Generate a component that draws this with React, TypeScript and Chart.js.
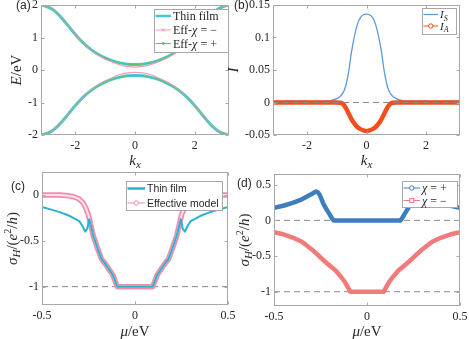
import React, { useEffect, useRef } from 'react';
import { Chart, registerables } from 'chart.js';
Chart.register(...registerables);

// ---------------- data ----------------
// (a) band structure
const kGrid = [-3.14, -3, -2.75, -2.5, -2.25, -2, -1.75, -1.5, -1.25, -1, -0.75, -0.5, -0.25, 0, 0.25, 0.5, 0.75, 1, 1.25, 1.5, 1.75, 2, 2.25, 2.5, 2.75, 3, 3.14];
const bandFilmUp = [2.0, 1.97, 1.86, 1.65, 1.38, 1.10, 0.85, 0.65, 0.49, 0.37, 0.28, 0.22, 0.18, 0.17, 0.18, 0.22, 0.28, 0.37, 0.49, 0.65, 0.85, 1.10, 1.38, 1.65, 1.86, 1.97, 2.0];
const bandFilmDn = [-2.0, -1.97, -1.86, -1.65, -1.38, -1.10, -0.85, -0.65, -0.49, -0.37, -0.28, -0.22, -0.18, -0.17, -0.18, -0.22, -0.28, -0.37, -0.49, -0.65, -0.85, -1.10, -1.38, -1.65, -1.86, -1.97, -2.0];
const bandEffMinusUp = [2.0, 1.97, 1.86, 1.65, 1.38, 1.10, 0.85, 0.64, 0.47, 0.34, 0.24, 0.16, 0.11, 0.09, 0.11, 0.16, 0.24, 0.34, 0.47, 0.64, 0.85, 1.10, 1.38, 1.65, 1.86, 1.97, 2.0];
const bandEffMinusDn = [-2.0, -1.97, -1.86, -1.65, -1.38, -1.10, -0.85, -0.64, -0.47, -0.34, -0.23, -0.14, -0.09, -0.07, -0.09, -0.14, -0.23, -0.34, -0.47, -0.64, -0.85, -1.10, -1.38, -1.65, -1.86, -1.97, -2.0];
const bandEffPlusUp = [2.0, 1.97, 1.86, 1.65, 1.38, 1.10, 0.85, 0.65, 0.49, 0.37, 0.28, 0.22, 0.18, 0.17, 0.18, 0.22, 0.28, 0.37, 0.49, 0.65, 0.85, 1.10, 1.38, 1.65, 1.86, 1.97, 2.0];
const bandEffPlusDn = [-2.0, -1.97, -1.86, -1.65, -1.38, -1.10, -0.85, -0.65, -0.49, -0.37, -0.28, -0.22, -0.18, -0.17, -0.18, -0.22, -0.28, -0.37, -0.49, -0.65, -0.85, -1.10, -1.38, -1.65, -1.86, -1.97, -2.0];

// (b) I_S, I_A
const kB = [-3.14, -2, -1.5, -1.2, -1.0, -0.9, -0.8, -0.7, -0.6, -0.5, -0.4, -0.3, -0.2, -0.1, 0, 0.1, 0.2, 0.3, 0.4, 0.5, 0.6, 0.7, 0.8, 0.9, 1.0, 1.2, 1.5, 2, 3.14];
const IS = [0.002, 0.002, 0.002, 0.003, 0.006, 0.009, 0.014, 0.025, 0.047, 0.079, 0.103, 0.121, 0.131, 0.135, 0.136, 0.135, 0.131, 0.121, 0.103, 0.079, 0.047, 0.025, 0.014, 0.009, 0.006, 0.003, 0.002, 0.002, 0.002];
const IA = [0, 0, 0, 0, 0, -0.0003, -0.002, -0.008, -0.017, -0.026, -0.033, -0.038, -0.041, -0.043, -0.044, -0.043, -0.041, -0.038, -0.033, -0.026, -0.017, -0.008, -0.002, -0.0003, 0, 0, 0, 0, 0];

// (c) Hall conductance, thin film vs effective model
const muFilmC = [-0.5, -0.45, -0.4, -0.35, -0.3, -0.285, -0.268, -0.257, -0.246, -0.238, -0.225, -0.2, -0.18, -0.16, -0.14, -0.12, -0.095, 0.095, 0.12, 0.14, 0.16, 0.18, 0.2, 0.225, 0.238, 0.246, 0.257, 0.268, 0.285, 0.3, 0.35, 0.4, 0.45, 0.5];
const sigmaFilmC = [-0.13, -0.16, -0.19, -0.23, -0.285, -0.33, -0.40, -0.37, -0.265, -0.33, -0.44, -0.59, -0.70, -0.75, -0.81, -0.87, -1.0, -1.0, -0.87, -0.81, -0.75, -0.70, -0.59, -0.44, -0.33, -0.265, -0.37, -0.40, -0.33, -0.285, -0.23, -0.19, -0.16, -0.13];
const muEffC = [-0.5, -0.45, -0.4, -0.36, -0.33, -0.3, -0.28, -0.265, -0.25, -0.24, -0.225, -0.2, -0.18, -0.16, -0.14, -0.12, -0.095, 0.095, 0.12, 0.14, 0.16, 0.18, 0.2, 0.225, 0.24, 0.25, 0.265, 0.28, 0.3, 0.33, 0.36, 0.4, 0.45, 0.5];
const sigmaEffC = [0, 0, -0.002, -0.008, -0.02, -0.045, -0.085, -0.14, -0.22, -0.31, -0.44, -0.59, -0.70, -0.75, -0.81, -0.87, -1.0, -1.0, -0.87, -0.81, -0.75, -0.70, -0.59, -0.44, -0.31, -0.22, -0.14, -0.085, -0.045, -0.02, -0.008, -0.002, 0, 0];

// (d) chirality-resolved
const muPlusD = [-0.5, -0.45, -0.4, -0.35, -0.3, -0.285, -0.273, -0.265, -0.255, -0.245, -0.235, -0.22, -0.2, -0.19, -0.18, 0.18, 0.19, 0.2, 0.22, 0.235, 0.245, 0.255, 0.265, 0.273, 0.285, 0.3, 0.35, 0.4, 0.45, 0.5];
const sigmaPlusD = [0.175, 0.205, 0.245, 0.295, 0.365, 0.39, 0.405, 0.395, 0.36, 0.30, 0.235, 0.165, 0.08, 0.035, 0, 0, 0.035, 0.08, 0.165, 0.235, 0.30, 0.36, 0.395, 0.405, 0.39, 0.365, 0.295, 0.245, 0.205, 0.175];
const muMinusD = [-0.5, -0.45, -0.4, -0.35, -0.3, -0.27, -0.25, -0.22, -0.2, -0.17, -0.14, -0.12, -0.1, -0.09, 0.09, 0.1, 0.12, 0.14, 0.17, 0.2, 0.22, 0.25, 0.27, 0.3, 0.35, 0.4, 0.45, 0.5];
const sigmaMinusD = [-0.165, -0.195, -0.24, -0.30, -0.40, -0.47, -0.52, -0.59, -0.635, -0.70, -0.79, -0.86, -0.95, -1.0, -1.0, -0.95, -0.86, -0.79, -0.70, -0.635, -0.59, -0.52, -0.47, -0.40, -0.30, -0.24, -0.195, -0.165];

// reference (dashed) levels
const refB = [0];
const refC = [-1];
const refD = [0, -1];

// ticks
const ticksAx = [-2, 0, 2];
const ticksAy = [-2, -1, 0, 1, 2];
const ticksBx = [-2, 0, 2];
const ticksBy = [-0.05, 0, 0.05, 0.1, 0.15];
const ticksCx = [-0.5, 0, 0.5];
const ticksCy = [-1, -0.5, 0];
const ticksDx = [-0.5, 0, 0.5];
const ticksDy = [-1, -0.5, 0, 0.5];
const labelsAx = ['-2', '0', '2'];
const labelsAy = ['-2', '-1', '0', '1', '2'];
const labelsBx = ['-2', '0', '2'];
const labelsBy = ['-0.05', '0', '0.05', '0.1', '0.15'];
const labelsCx = ['-0.5', '0', '0.5'];
const labelsCy = ['-1', '-0.5', '0'];
const labelsDx = ['-0.5', '0', '0.5'];
const labelsDy = ['-1', '-0.5', '0', '0.5'];

// ---------------- drawing helpers ----------------
const W = 469, H = 339;
const SERIF = '"Liberation Serif", "DejaVu Serif", serif';
const SANS = '"Liberation Sans", Arial, sans-serif';
const AXIS = '#a8a8a8';
const TXT = '#262626';

type Seg = { t: string; it?: boolean; sz?: number; dy?: number };

function rich(ctx: CanvasRenderingContext2D, segs: Seg[], x: number, y: number, base: number, fam: string, align: 'left' | 'center', rot = 0) {
  ctx.save();
  ctx.translate(x, y);
  if (rot) ctx.rotate(rot);
  ctx.textBaseline = 'alphabetic';
  ctx.textAlign = 'left';
  ctx.fillStyle = TXT;
  const fonts = segs.map(s => `${s.it ? 'italic ' : ''}${s.sz ?? base}px ${fam}`);
  const widths = segs.map((s, i) => { ctx.font = fonts[i]; return ctx.measureText(s.t).width; });
  const total = widths.reduce((a, b) => a + b, 0);
  let cx = align === 'center' ? -total / 2 : 0;
  const by = base * 0.35;
  segs.forEach((s, i) => { ctx.font = fonts[i]; ctx.fillText(s.t, cx, by + (s.dy ?? 0)); cx += widths[i]; });
  ctx.restore();
}

function drawFrame(chart: any) {
  const { ctx, chartArea: a, scales } = chart;
  ctx.save();
  ctx.strokeStyle = AXIS;
  ctx.lineWidth = 1;
  const L = Math.round(a.left) + 0.5, R = Math.round(a.right) - 0.5, T = Math.round(a.top) + 0.5, B = Math.round(a.bottom) - 0.5;
  ctx.strokeRect(L, T, R - L, B - T);
  const tl = 3;
  ctx.beginPath();
  scales.x.ticks.forEach((t: any) => {
    const px = Math.round(scales.x.getPixelForValue(t.value)) + 0.5;
    ctx.moveTo(px, B); ctx.lineTo(px, B - tl);
    ctx.moveTo(px, T); ctx.lineTo(px, T + tl);
  });
  scales.y.ticks.forEach((t: any) => {
    const py = Math.round(scales.y.getPixelForValue(t.value)) + 0.5;
    ctx.moveTo(L, py); ctx.lineTo(L + tl, py);
    ctx.moveTo(R, py); ctx.lineTo(R - tl, py);
  });
  ctx.stroke();
  ctx.restore();
}

type Row = { y: number; color: string; lw: number; marker?: 'circle' | 'square' | 'dot' | 'x'; segs: Seg[] };
type Leg = { x: number; y: number; w: number; h: number; x0: number; x1: number; tx: number; fam: string; size: number; rows: Row[] };

function drawLegend(ctx: CanvasRenderingContext2D, L: Leg) {
  ctx.save();
  ctx.fillStyle = '#ffffff';
  ctx.fillRect(L.x, L.y, L.w, L.h);
  ctx.strokeStyle = AXIS;
  ctx.lineWidth = 1;
  ctx.strokeRect(L.x + 0.5, L.y + 0.5, L.w, L.h);
  L.rows.forEach(r => {
    ctx.strokeStyle = r.color;
    ctx.lineWidth = r.lw;
    ctx.beginPath(); ctx.moveTo(L.x0, r.y); ctx.lineTo(L.x1, r.y); ctx.stroke();
    const mx = (L.x0 + L.x1) / 2;
    ctx.lineWidth = 1;
    if (r.marker === 'circle') {
      ctx.fillStyle = '#fff'; ctx.beginPath(); ctx.arc(mx, r.y, 2.2, 0, Math.PI * 2); ctx.fill(); ctx.stroke();
    } else if (r.marker === 'square') {
      ctx.fillStyle = '#fff'; ctx.fillRect(mx - 2, r.y - 2, 4, 4); ctx.strokeRect(mx - 2, r.y - 2, 4, 4);
    } else if (r.marker === 'dot') {
      ctx.fillStyle = r.color; ctx.beginPath(); ctx.arc(mx, r.y, 1.4, 0, Math.PI * 2); ctx.fill();
    } else if (r.marker === 'x') {
      ctx.beginPath(); ctx.moveTo(mx - 1.5, r.y - 1.5); ctx.lineTo(mx + 1.5, r.y + 1.5); ctx.moveTo(mx + 1.5, r.y - 1.5); ctx.lineTo(mx - 1.5, r.y + 1.5); ctx.stroke();
    }
    rich(ctx, r.segs, L.tx, r.y, L.size, L.fam, 'left');
  });
  ctx.restore();
}

function panelLabel(ctx: CanvasRenderingContext2D, t: string, x: number, y: number) {
  ctx.save();
  ctx.font = `12px ${SANS}`;
  ctx.fillStyle = TXT;
  ctx.textBaseline = 'middle';
  ctx.textAlign = 'left';
  ctx.fillText(t, x, y);
  ctx.restore();
}

function series(xs: number[], ys: number[], color: string, width: number, order: number, extra: any = {}) {
  return {
    data: xs.map((x, i) => ({ x, y: ys[i] })),
    borderColor: color, borderWidth: width, pointRadius: 0, fill: false, order,
    tension: 0, borderCapStyle: 'round', borderJoinStyle: 'round', ...extra,
  };
}

function refLine(v: number, xmin: number, xmax: number, order: number) {
  return series([xmin, xmax], [v, v], '#8a8a8a', 1, order, { borderDash: [6, 4], borderCapStyle: 'butt' });
}

type Ax = { min: number; max: number; ticks: number[]; labels: string[] };

function buildConfig(area: number[], xa: Ax, ya: Ax, datasets: any[], deco: (ctx: CanvasRenderingContext2D, chart: any) => void) {
  const [L, T, R, B] = area;
  const YW = 30, XH = 20;
  const tickFont = { family: SERIF, size: 12 };
  return {
    type: 'line',
    data: { datasets },
    options: {
      animation: false, responsive: false, events: [],
      layout: { padding: { left: L - YW, top: T, right: W - R, bottom: H - B - XH } },
      plugins: { legend: { display: false }, tooltip: { enabled: false }, title: { display: false } },
      scales: {
        x: {
          type: 'linear', min: xa.min, max: xa.max, bounds: 'data',
          grid: { display: false, drawTicks: false }, border: { display: false },
          ticks: { font: tickFont, color: TXT, padding: 4, maxRotation: 0, autoSkip: false, callback: (_v: any, i: number) => xa.labels[i] },
          afterBuildTicks: (s: any) => { s.ticks = xa.ticks.map(v => ({ value: v })); },
          afterFit: (s: any) => { s.height = XH; s.paddingLeft = 0; s.paddingRight = 0; },
        },
        y: {
          type: 'linear', min: ya.min, max: ya.max, bounds: 'data',
          grid: { display: false, drawTicks: false }, border: { display: false },
          ticks: { font: tickFont, color: TXT, padding: 3, autoSkip: false, callback: (_v: any, i: number) => ya.labels[i] },
          afterBuildTicks: (s: any) => { s.ticks = ya.ticks.map(v => ({ value: v })); },
          afterFit: (s: any) => { s.width = YW; s.paddingTop = 0; s.paddingBottom = 0; },
        },
      },
    },
    plugins: [{ id: 'deco', afterDraw: (chart: any) => { drawFrame(chart); deco(chart.ctx, chart); } }],
  };
}

// ---------------- panel configs ----------------
const C_FILM_A = '#45c6da';
const C_EFFM = '#f29bb5';
const C_EFFP = '#62c26a';
const C_IS = '#5d9ad3';
const C_IA = '#f24e1e';
const C_FILM_C = '#25b4d0';
const C_EFF_C = '#f08dab';
const C_PLUS = '#3c7ec0';
const C_MINUS = '#f27a7a';

const sigmaTitle: Seg[] = [{ t: 'σ', it: true }, { t: 'H', it: true, sz: 11, dy: 3 }, { t: '/(' }, { t: 'e', it: true }, { t: '2', sz: 10, dy: -6 }, { t: '/' }, { t: 'h', it: true }, { t: ')' }];

function configA() {
  const mono = { cubicInterpolationMode: 'monotone' };
  const ds = [
    series(kGrid, bandEffPlusUp, C_EFFP, 1, 0, mono),
    series(kGrid, bandEffPlusDn, C_EFFP, 1, 0, mono),
    series(kGrid, bandEffMinusUp, C_EFFM, 1.2, 1, mono),
    series(kGrid, bandEffMinusDn, C_EFFM, 1.2, 1, mono),
    series(kGrid, bandFilmUp, C_FILM_A, 3, 2, mono),
    series(kGrid, bandFilmDn, C_FILM_A, 3, 2, mono),
  ];
  return buildConfig([41, 5, 229, 135], { min: -3.1416, max: 3.1416, ticks: ticksAx, labels: labelsAx }, { min: -2, max: 2, ticks: ticksAy, labels: labelsAy }, ds, (ctx) => {
    panelLabel(ctx, '(a)', 16, 6);
    rich(ctx, [{ t: 'E', it: true }, { t: '/eV' }], 16, 70, 15, SERIF, 'center', -Math.PI / 2);
    rich(ctx, [{ t: 'k', it: true }, { t: 'x', it: true, sz: 11, dy: 3 }], 135, 160, 15, SERIF, 'center');
    drawLegend(ctx, {
      x: 154, y: 9, w: 74, h: 43, x0: 155.5, x1: 171, tx: 173, fam: SERIF, size: 12,
      rows: [
        { y: 16, color: C_FILM_A, lw: 2.5, segs: [{ t: 'Thin film' }] },
        { y: 30, color: C_EFFM, lw: 1, marker: 'x', segs: [{ t: 'Eff-' }, { t: 'χ', it: true }, { t: ' = −' }] },
        { y: 43.5, color: C_EFFP, lw: 1, marker: 'dot', segs: [{ t: 'Eff-' }, { t: 'χ', it: true }, { t: ' = +' }] },
      ],
    });
  });
}

function configB() {
  const mono = { cubicInterpolationMode: 'monotone' };
  const ds = [
    refLine(refB[0], -3.1416, 3.1416, 0),
    series(kB, IA, C_IA, 4.5, 1, mono),
    series(kB, IS, C_IS, 1.3, 2, mono),
  ];
  return buildConfig([273, 5, 460, 135], { min: -3.1416, max: 3.1416, ticks: ticksBx, labels: labelsBx }, { min: -0.05, max: 0.15, ticks: ticksBy, labels: labelsBy }, ds, (ctx) => {
    panelLabel(ctx, '(b)', 234, 6);
    rich(ctx, [{ t: 'I', it: true }], 233, 70, 15, SERIF, 'center', -Math.PI / 2);
    rich(ctx, [{ t: 'k', it: true }, { t: 'x', it: true, sz: 11, dy: 3 }], 366.5, 160, 15, SERIF, 'center');
    drawLegend(ctx, {
      x: 422, y: 8, w: 34, h: 26, x0: 423.5, x1: 438, tx: 440, fam: SERIF, size: 11,
      rows: [
        { y: 14.5, color: C_IS, lw: 1.2, segs: [{ t: 'I', it: true }, { t: 'S', it: true, sz: 8, dy: 2.5 }] },
        { y: 26, color: C_IA, lw: 1, marker: 'circle', segs: [{ t: 'I', it: true }, { t: 'A', it: true, sz: 8, dy: 2.5 }] },
      ],
    });
  });
}

function configC() {
  const ds = [
    series(muFilmC, sigmaFilmC, C_FILM_C, 2, 0),
    series(muEffC, sigmaEffC, '#fce3ea', 2, 1),
    series(muEffC, sigmaEffC, C_EFF_C, 5.5, 2),
    refLine(refC[0], -0.5, 0.5, 3),
  ];
  return buildConfig([42, 172, 228, 305], { min: -0.5, max: 0.5, ticks: ticksCx, labels: labelsCx }, { min: -1.2, max: 0.25, ticks: ticksCy, labels: labelsCy }, ds, (ctx) => {
    panelLabel(ctx, '(c)', 11, 187);
    rich(ctx, sigmaTitle, 12, 238.5, 15, SERIF, 'center', -Math.PI / 2);
    rich(ctx, [{ t: 'μ', it: true }, { t: '/eV' }], 135, 331, 15, SERIF, 'center');
    drawLegend(ctx, {
      x: 126, y: 181, w: 96, h: 29, x0: 127.5, x1: 145, tx: 147, fam: SANS, size: 10.5,
      rows: [
        { y: 188.5, color: C_FILM_C, lw: 2.5, segs: [{ t: 'Thin film' }] },
        { y: 203, color: C_EFF_C, lw: 1, marker: 'circle', segs: [{ t: 'Effective model' }] },
      ],
    });
  });
}

function configD() {
  const ds = [
    series(muPlusD, sigmaPlusD, C_PLUS, 4.5, 0),
    series(muMinusD, sigmaMinusD, C_MINUS, 4.5, 1),
    refLine(refD[0], -0.5, 0.5, 2),
    refLine(refD[1], -0.5, 0.5, 2),
  ];
  return buildConfig([274, 174, 460, 306], { min: -0.5, max: 0.5, ticks: ticksDx, labels: labelsDx }, { min: -1.2, max: 0.65, ticks: ticksDy, labels: labelsDy }, ds, (ctx) => {
    panelLabel(ctx, '(d)', 237, 184);
    rich(ctx, sigmaTitle, 244, 240, 15, SERIF, 'center', -Math.PI / 2);
    rich(ctx, [{ t: 'μ', it: true }, { t: '/eV' }], 367, 331, 15, SERIF, 'center');
    drawLegend(ctx, {
      x: 402, y: 181, w: 55, h: 26, x0: 403.5, x1: 420, tx: 422, fam: SERIF, size: 12,
      rows: [
        { y: 188, color: C_PLUS, lw: 1, marker: 'circle', segs: [{ t: 'χ', it: true }, { t: ' = +' }] },
        { y: 200.5, color: C_MINUS, lw: 1, marker: 'square', segs: [{ t: 'χ', it: true }, { t: ' = −' }] },
      ],
    });
  });
}

function Panel({ build }: { build: () => any }) {
  const ref = useRef<HTMLCanvasElement>(null);
  useEffect(() => {
    const chart = new Chart(ref.current as HTMLCanvasElement, build());
    return () => chart.destroy();
  }, []);
  return <canvas ref={ref} width={W} height={H} style={{ position: 'absolute', left: 0, top: 0, width: W, height: H }} />;
}

export default function App() {
  return (
    <div style={{ position: 'absolute', left: 0, top: 0, width: W, height: H, background: '#ffffff', overflow: 'hidden' }}>
      <Panel build={configA} />
      <Panel build={configB} />
      <Panel build={configC} />
      <Panel build={configD} />
    </div>
  );
}
